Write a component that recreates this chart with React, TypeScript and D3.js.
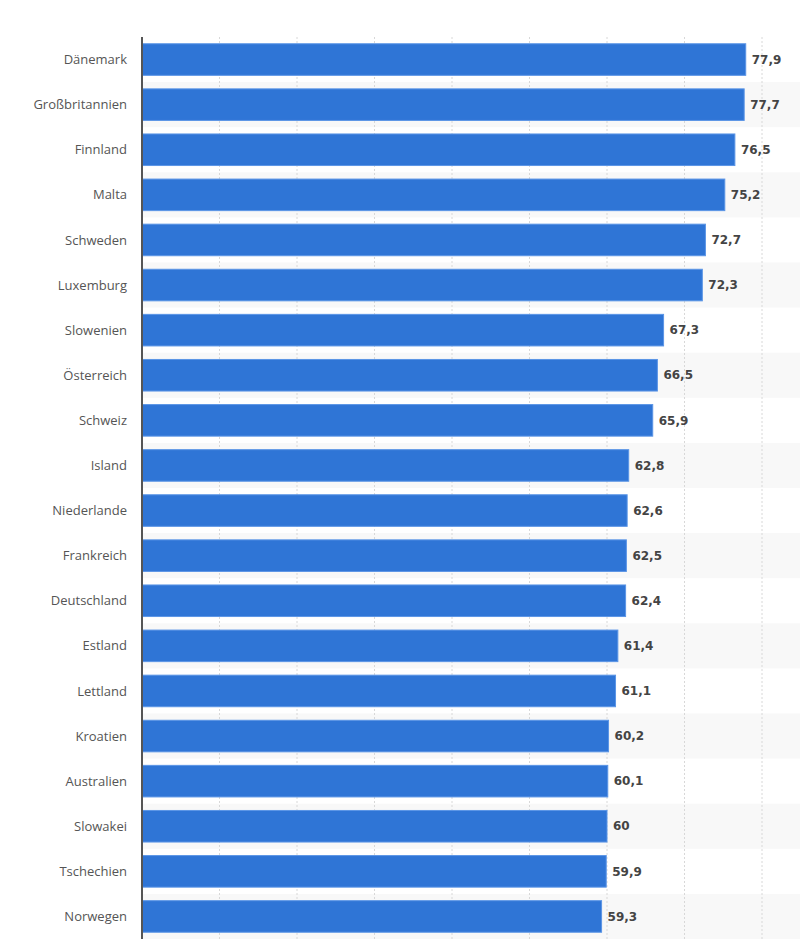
import React from "react";
import * as d3 from "d3";

const countries = [
  "Dänemark",
  "Großbritannien",
  "Finnland",
  "Malta",
  "Schweden",
  "Luxemburg",
  "Slowenien",
  "Österreich",
  "Schweiz",
  "Island",
  "Niederlande",
  "Frankreich",
  "Deutschland",
  "Estland",
  "Lettland",
  "Kroatien",
  "Australien",
  "Slowakei",
  "Tschechien",
  "Norwegen",
];

const values = [
  77.9, 77.7, 76.5, 75.2, 72.7, 72.3, 67.3, 66.5, 65.9, 62.8, 62.6, 62.5, 62.4,
  61.4, 61.1, 60.2, 60.1, 60, 59.9, 59.3,
];

const gridTicks = [10, 20, 30, 40, 50, 60, 70, 80];

const width = 800;
const height = 939;
const left = 142;
const top = 37;
const bottom = 939;

export default function App() {
  const x = d3.scaleLinear().domain([0, 85]).range([left, left + 85 * 7.75]);
  const y = d3
    .scaleBand<string>()
    .domain(countries)
    .range([top, bottom])
    .paddingInner(0.3)
    .paddingOuter(0.15);
  const step = y.step();
  const fmt = (v: number) => String(v).replace(".", ",");

  return (
    <svg
      width={width}
      height={height}
      style={{ position: "absolute", left: 0, top: 0 }}
      fontFamily="'Open Sans', sans-serif"
    >
      <rect width={width} height={height} fill="#ffffff" />
      {countries.map((c, i) =>
        i % 2 === 1 ? (
          <rect
            key={"s" + c}
            x={left}
            y={(y(c) as number) - step * 0.15}
            width={width - left}
            height={step}
            fill="#f8f8f8"
          />
        ) : null
      )}
      {gridTicks.map((t) => (
        <line
          key={t}
          x1={x(t)}
          x2={x(t)}
          y1={top}
          y2={bottom}
          stroke="#d8d8d8"
          strokeDasharray="2,2"
        />
      ))}
      {countries.map((c, i) => {
        const yy = y(c) as number;
        const bw = y.bandwidth();
        return (
          <g key={c}>
            <rect
              x={x(0)}
              y={yy}
              width={x(values[i]) - x(0)}
              height={bw}
              fill="#2f75d6"
              stroke="#5b95e6"
              strokeWidth={1}
            />
            <text
              x={left - 15}
              y={yy + bw / 2}
              dy="0.35em"
              textAnchor="end"
              fontSize={13}
              fill="#555555"
            >
              {c}
            </text>
            <text
              x={x(values[i]) + 6}
              y={yy + bw / 2}
              dy="0.35em"
              fontSize={12}
              fontWeight="bold"
              fontFamily="'DejaVu Sans', sans-serif"
              fill="#444444"
            >
              {fmt(values[i])}
            </text>
          </g>
        );
      })}
      <line x1={left} x2={left} y1={top} y2={bottom} stroke="#555555" strokeWidth={2} />
    </svg>
  );
}
